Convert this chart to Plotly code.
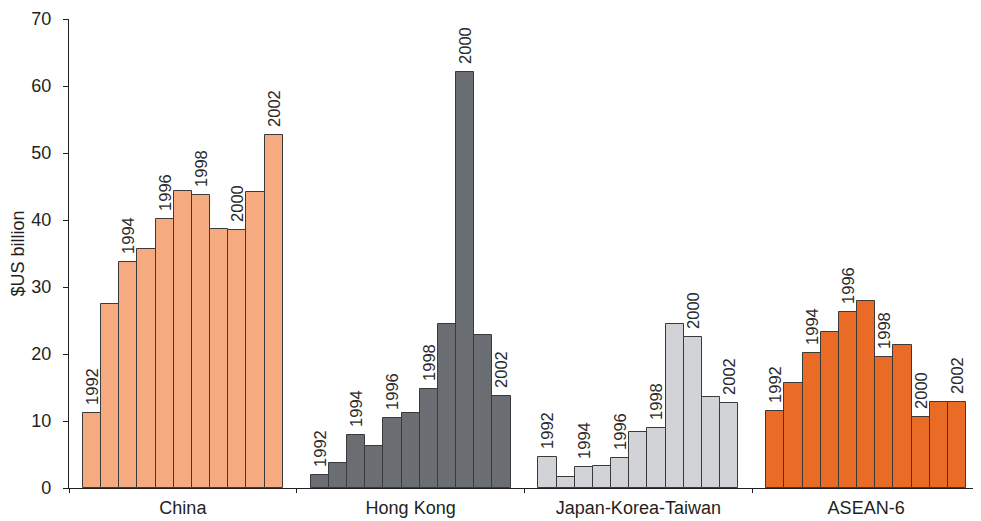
import plotly.graph_objects as go

years = list(range(1992, 2003))
regions = ["China", "Hong Kong", "Japan-Korea-Taiwan", "ASEAN-6"]

china = [11.2, 27.4, 33.7, 35.7, 40.2, 44.3, 43.8, 38.6, 38.5, 44.2, 52.7]
hong_kong = [1.9, 3.7, 7.9, 6.3, 10.5, 11.2, 14.8, 24.5, 62.1, 22.9, 13.7]
jkt = [4.7, 1.7, 3.2, 3.3, 4.5, 8.4, 9.0, 24.5, 22.6, 13.6, 12.7]
asean6 = [11.5, 15.7, 20.2, 23.3, 26.2, 27.9, 19.5, 21.3, 10.6, 12.8, 12.8]

series = [china, hong_kong, jkt, asean6]
colors = ["#F5AA80", "#6A6D72", "#D2D3D7", "#E96B25"]

bar_w = 0.0798
n = len(years)

fig = go.Figure()
for gi, (name, vals, col) in enumerate(zip(regions, series, colors)):
    xs = [gi + (i - (n - 1) / 2) * bar_w for i in range(n)]
    labels = ["\u00a0" + str(y) if y % 2 == 0 else "" for y in years]
    fig.add_trace(go.Bar(
        x=xs, y=vals, width=bar_w, name=name,
        marker=dict(color=col, line=dict(color="#3A3A3A", width=1)),
        text=labels, textposition="outside", textangle=-90,
        constraintext="none", cliponaxis=False,
        textfont=dict(family="Liberation Sans, Arial", size=16.5, color="#2A2A2A"),
        showlegend=False, hoverinfo="x+y",
    ))

fig.update_layout(
    width=973, height=513,
    margin=dict(l=61, r=1, t=11, b=33, autoexpand=False),
    paper_bgcolor="white", plot_bgcolor="white",
    font=dict(family="Liberation Sans, Arial", size=18, color="#231F20"),
    bargap=0,
)
fig.update_xaxes(
    range=[-0.5, 3.5], tickmode="array", tickvals=list(range(len(regions))),
    ticktext=regions, ticks="", showgrid=False, zeroline=False,
    showline=True, linecolor="#231F20", linewidth=1.4,
    tickfont=dict(size=18), ticklabelstandoff=3,
    minor=dict(tickmode="array", tickvals=[-0.5, 0.5, 1.5, 2.5, 3.5],
               ticks="outside", ticklen=4, tickcolor="#231F20", tickwidth=1.4, showgrid=False),
)
fig.update_yaxes(
    range=[0, 70], tickmode="array", tickvals=list(range(0, 71, 10)),
    ticks="outside", ticklen=5, tickcolor="#231F20", tickwidth=1.4,
    showline=True, linecolor="#231F20", linewidth=1.4,
    showgrid=False, zeroline=False, tickfont=dict(size=18),
    ticklabelstandoff=8,
    title=dict(text="$US billion", font=dict(size=18), standoff=4),
)
fig.write_html("out.html")
